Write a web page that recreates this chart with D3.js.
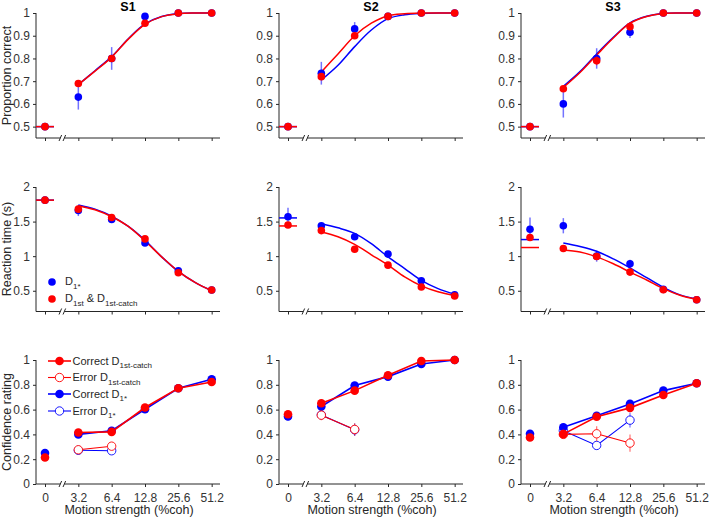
<!DOCTYPE html>
<html><head><meta charset="utf-8">
<script src="https://cdn.jsdelivr.net/npm/d3@7/dist/d3.min.js"></script>
<style>
body{margin:0;background:#fff;}
svg{font-family:"Liberation Sans",Arial,Helvetica,sans-serif;}
</style></head>
<body><svg id="c" width="715" height="520"></svg>
<script>
// ---------- data ----------
const cohLabels = ["0","3.2","6.4","12.8","25.6","51.2"];
const cohIdx = [0,1,2,3,4,5];
const subjects = ["S1","S2","S3"];
const fitIdx = [1,1.5,2,2.5,3,3.5,4,4.5,5];

// Proportion correct
const pcBlue = [[0.5,0.63,0.80,0.985,1.0,1.0],[0.5,0.735,0.93,0.985,1.0,1.0],[0.5,0.60,0.80,0.915,1.0,1.0]];
const pcBlueErr = [[0,0.055,0.05,0.01,0,0],[0,0.05,0.03,0.006,0,0],[0,0.06,0.045,0.025,0,0]];
const pcRed = [[0.5,0.69,0.80,0.955,1.0,1.0],[0.5,0.72,0.90,0.985,1.0,1.0],[0.5,0.667,0.79,0.94,1.0,1.0]];
const pcRedErr = [[0,0.01,0.015,0.01,0,0],[0,0.01,0.01,0.005,0,0],[0,0.01,0.02,0.01,0,0]];
const pcFitBlue = [[0.685,0.746,0.808,0.887,0.952,0.985,0.997,1.0,1.0],[0.705,0.77,0.852,0.925,0.975,0.992,0.998,1.0,1.0],[0.677,0.742,0.82,0.893,0.957,0.986,0.998,1.0,1.0]];
const pcFitRed = [[0.685,0.744,0.806,0.885,0.95,0.984,0.997,1.0,1.0],[0.74,0.82,0.90,0.955,0.988,0.997,1.0,1.0,1.0],[0.672,0.738,0.815,0.89,0.955,0.985,0.998,1.0,1.0]];
const pcZeroBlue = [0.5,0.5,0.5];
const pcZeroRed = [0.5,0.5,0.5];

// Reaction time
const rtBlue = [[1.81,1.66,1.53,1.19,0.79,0.51],[1.57,1.44,1.28,1.03,0.645,0.44],[1.39,1.44,1.0,0.89,0.52,0.37]];
const rtBlueErr = [[0.02,0.08,0.04,0.04,0.03,0.02],[0.13,0.03,0.03,0.03,0.02,0.02],[0.17,0.11,0.08,0.06,0.02,0.02]];
const rtRed = [[1.81,1.68,1.56,1.25,0.76,0.51],[1.45,1.37,1.10,0.87,0.555,0.425],[1.27,1.11,0.995,0.77,0.515,0.37]];
const rtRedErr = [[0.02,0.04,0.03,0.03,0.02,0.01],[0.04,0.02,0.02,0.02,0.02,0.01],[0.05,0.02,0.03,0.02,0.02,0.01]];
const rtFitBlue = [[1.74,1.68,1.58,1.43,1.23,0.99,0.78,0.62,0.50],[1.47,1.41,1.33,1.18,0.99,0.82,0.65,0.53,0.45],[1.19,1.14,1.07,0.96,0.83,0.69,0.55,0.44,0.38]];
const rtFitRed = [[1.73,1.67,1.57,1.43,1.22,0.99,0.78,0.62,0.50],[1.35,1.28,1.17,1.02,0.87,0.70,0.57,0.485,0.43],[1.09,1.06,0.99,0.89,0.77,0.655,0.53,0.435,0.375]];
const rtZeroBlue = [1.81,1.553,1.24];
const rtZeroRed = [1.81,1.437,1.125];

// Confidence
const cfBlue = [[0.249,0.40,0.43,0.603,0.772,0.845],[0.544,0.625,0.794,0.866,0.968,1.0],[0.405,0.458,0.55,0.646,0.753,0.812]];
const cfBlueErr = [[0.02,0.01,0.01,0.01,0.01,0.01],[0.03,0.01,0.01,0.01,0.01,0.005],[0.03,0.01,0.01,0.01,0.01,0.01]];
const cfRed = [[0.214,0.415,0.42,0.617,0.772,0.823],[0.563,0.651,0.753,0.877,0.992,1.0],[0.375,0.402,0.542,0.614,0.718,0.812]];
const cfRedErr = [[0.02,0.01,0.01,0.01,0.01,0.01],[0.02,0.01,0.01,0.01,0.01,0.005],[0.02,0.01,0.01,0.01,0.01,0.01]];
const cfErrBlue = [[null,0.272,0.268,null,null,null],[null,0.557,0.437,null,null,null],[null,0.43,0.311,0.515,null,null]];
const cfErrBlueErr = [[0,0.02,0.02,0,0,0],[0,0.03,0.05,0,0,0],[0,0.03,0.03,0.06,0,0]];
const cfErrRed = [[null,0.276,0.305,null,null,null],[null,0.555,0.44,null,null,null],[null,0.40,0.405,0.33,null,null]];
const cfErrRedErr = [[0,0.03,0.02,0,0,0],[0,0.04,0.05,0,0,0],[0,0.02,0.06,0.07,0,0]];

const pcTicks = [0.5,0.6,0.7,0.8,0.9,1];
const rtTicks = [0.5,1,1.5,2];
const cfTicks = [0,0.2,0.4,0.6,0.8,1];
const yTitles = ["Proportion correct","Reaction time (s)","Confidence rating"];
const xTitle = "Motion strength (%coh)";

// ---------- layout ----------
const BLUE = "#0000ff", RED = "#ff0000";
const svg = d3.select("#c");
const panelLeft = [36, 279, 521];
const panelW = 184;
const rowDefs = [
  {domain:[0.45,1], range:[138,13], ticks:pcTicks},
  {domain:[0.2,2], range:[311.5,187], ticks:rtTicks},
  {domain:[0,1], range:[484,360], ticks:cfTicks}
];

function xScale(p){ return d3.scaleLinear().domain([-0.27,5.25]).range([panelLeft[p], panelLeft[p]+panelW]); }

function drawAxes(g, x, y, row, ticks, showXLabels){
  const axCol = "#262626";
  const ya = d3.axisLeft(y).tickValues(ticks).tickSize(3).tickPadding(3).tickFormat(d3.format("~g"));
  const yg = g.append("g").attr("transform",`translate(${x.range()[0]},0)`).call(ya);
  yg.select(".domain").remove();
  yg.append("line").attr("y1",y.range()[0]).attr("y2",y(ticks[ticks.length-1])).attr("stroke",axCol).attr("stroke-width",1);
  yg.selectAll(".tick line").attr("stroke",axCol);
  yg.selectAll(".tick text").attr("fill","#333").attr("font-size",12).attr("font-family","Liberation Sans, Arial, sans-serif");
  const xa = d3.axisBottom(x).tickValues(cohIdx).tickSize(3).tickPadding(6).tickFormat((d,i)=> showXLabels ? cohLabels[i] : "");
  const xg = g.append("g").attr("transform",`translate(0,${y.range()[0]})`).call(xa);
  xg.select(".domain").remove();
  xg.append("line").attr("x1",x.range()[0]).attr("x2",x.range()[1]).attr("stroke",axCol);
  xg.selectAll(".tick line").attr("stroke",axCol);
  xg.selectAll(".tick text").attr("fill","#333").attr("font-size",12).attr("font-family","Liberation Sans, Arial, sans-serif");
  const bx = x(0.52);
  xg.append("rect").attr("x",bx-2).attr("y",-1.5).attr("width",4).attr("height",3).attr("fill","#fff");
  [-2,2].forEach(o=>{
    xg.append("line").attr("x1",bx+o-1.3).attr("y1",3).attr("x2",bx+o+1.3).attr("y2",-3).attr("stroke",axCol).attr("stroke-width",1);
  });
}

function errBars(g, x, y, vals, errs, col, w){
  vals.forEach((v,i)=>{
    if(v===null || !errs[i]) return;
    g.append("line").attr("x1",x(cohIdx[i])).attr("x2",x(cohIdx[i]))
      .attr("y1",y(v-errs[i])).attr("y2",y(v+errs[i]))
      .attr("stroke",col).attr("stroke-opacity",0.55).attr("stroke-width",w||1.5);
  });
}
function dots(g, x, y, vals, col, r, open){
  vals.forEach((v,i)=>{
    if(v===null) return;
    g.append("circle").attr("cx",x(cohIdx[i])).attr("cy",y(v)).attr("r",r)
      .attr("fill",open?"#fff":col).attr("stroke",col).attr("stroke-width",open?0.9:0);
  });
}
function fitLine(g, x, y, vals, col){
  const line = d3.line().x((d,i)=>x(fitIdx[i])).y(d=>y(d)).curve(d3.curveCatmullRom.alpha(0.5));
  g.append("path").attr("d",line(vals)).attr("fill","none").attr("stroke",col).attr("stroke-width",1.5);
}
function zeroLine(g, x, y, v, col){
  g.append("line").attr("x1",x(-0.27)).attr("x2",x(0.27)).attr("y1",y(v)).attr("y2",y(v)).attr("stroke",col).attr("stroke-width",1.5);
}
function connected(g, x, y, vals, col, r, open, startIdx){
  const pts = vals.map((v,i)=>[i,v]).filter(d=>d[1]!==null && d[0]>=startIdx);
  const line = d3.line().x(d=>x(cohIdx[d[0]])).y(d=>y(d[1]));
  g.append("path").attr("d",line(pts)).attr("fill","none").attr("stroke",col).attr("stroke-width",open?1.1:1.6);
}

for(let p=0;p<3;p++){
  const x = xScale(p);
  {
    const rd = rowDefs[0];
    const y = d3.scaleLinear().domain(rd.domain).range(rd.range);
    const g = svg.append("g");
    drawAxes(g,x,y,0,rd.ticks,false);
    zeroLine(g,x,y,pcZeroBlue[p],BLUE);
    zeroLine(g,x,y,pcZeroRed[p],RED);
    fitLine(g,x,y,pcFitBlue[p],BLUE);
    fitLine(g,x,y,pcFitRed[p],RED);
    errBars(g,x,y,pcBlue[p],pcBlueErr[p],BLUE);
    dots(g,x,y,pcBlue[p],BLUE,3.8);
    errBars(g,x,y,pcRed[p],pcRedErr[p],RED);
    dots(g,x,y,pcRed[p],RED,3.8);
    svg.append("text").attr("x",(x.range()[0]+x.range()[1])/2).attr("y",11).attr("text-anchor","middle")
      .attr("font-weight","bold").attr("font-size",12.5).text(subjects[p]);
  }
  {
    const rd = rowDefs[1];
    const y = d3.scaleLinear().domain(rd.domain).range(rd.range);
    const g = svg.append("g");
    drawAxes(g,x,y,1,rd.ticks,false);
    zeroLine(g,x,y,rtZeroBlue[p],BLUE);
    zeroLine(g,x,y,rtZeroRed[p],RED);
    fitLine(g,x,y,rtFitBlue[p],BLUE);
    fitLine(g,x,y,rtFitRed[p],RED);
    errBars(g,x,y,rtBlue[p],rtBlueErr[p],BLUE);
    dots(g,x,y,rtBlue[p],BLUE,3.8);
    errBars(g,x,y,rtRed[p],rtRedErr[p],RED);
    dots(g,x,y,rtRed[p],RED,3.8);
  }
  {
    const rd = rowDefs[2];
    const y = d3.scaleLinear().domain(rd.domain).range(rd.range);
    const g = svg.append("g");
    drawAxes(g,x,y,2,rd.ticks,true);
    connected(g,x,y,cfErrBlue[p],BLUE,4,true,1);
    errBars(g,x,y,cfErrBlue[p],cfErrBlueErr[p],BLUE,1.2);
    dots(g,x,y,cfErrBlue[p],BLUE,4.2,true);
    connected(g,x,y,cfBlue[p],BLUE,4,false,1);
    errBars(g,x,y,cfBlue[p],cfBlueErr[p],BLUE);
    dots(g,x,y,cfBlue[p],BLUE,4.3);
    connected(g,x,y,cfErrRed[p],RED,4,true,1);
    errBars(g,x,y,cfErrRed[p],cfErrRedErr[p],RED,1.2);
    dots(g,x,y,cfErrRed[p],RED,4.2,true);
    connected(g,x,y,cfRed[p],RED,4,false,1);
    errBars(g,x,y,cfRed[p],cfRedErr[p],RED);
    dots(g,x,y,cfRed[p],RED,4.3);
    svg.append("text").attr("x",(x.range()[0]+x.range()[1])/2 + 1).attr("y",514).attr("text-anchor","middle")
      .attr("font-size",12.5).attr("fill","#262626").text(xTitle);
  }
}

const rowCenters = [75.5, 249, 422];
yTitles.forEach((t,i)=>{
  svg.append("text").attr("transform",`translate(11,${rowCenters[i]}) rotate(-90)`)
    .attr("text-anchor","middle").attr("font-size",12.5).attr("fill","#262626").text(t);
});

function subText(sel, parts){
  parts.forEach(pt=>{
    const ts = sel.append("tspan").text(pt.t);
    if(pt.sub){ ts.attr("font-size",8).attr("dy",3.5); }
    else if(pt.after){ ts.attr("dy",-3.5); }
  });
}
{
  const lg = svg.append("g");
  lg.append("circle").attr("cx",52).attr("cy",282).attr("r",3.8).attr("fill",BLUE);
  lg.append("circle").attr("cx",52).attr("cy",299).attr("r",3.8).attr("fill",RED);
  const t1 = lg.append("text").attr("x",65).attr("y",285).attr("font-size",11).attr("fill","#262626");
  subText(t1,[{t:"D"},{t:"1*",sub:true}]);
  const t2 = lg.append("text").attr("x",65).attr("y",302).attr("font-size",11).attr("fill","#262626");
  subText(t2,[{t:"D"},{t:"1st",sub:true},{t:" & D",after:true},{t:"1st-catch",sub:true}]);
}
{
  const items = [
    {col:RED, open:false, label:[{t:"Correct D"},{t:"1st-catch",sub:true}]},
    {col:RED, open:true, label:[{t:"Error D"},{t:"1st-catch",sub:true}]},
    {col:BLUE, open:false, label:[{t:"Correct D"},{t:"1*",sub:true}]},
    {col:BLUE, open:true, label:[{t:"Error D"},{t:"1*",sub:true}]}
  ];
  const ys = [361,377.5,394,411];
  const lg = svg.append("g");
  items.forEach((it,i)=>{
    lg.append("line").attr("x1",48).attr("x2",71).attr("y1",ys[i]).attr("y2",ys[i]).attr("stroke",it.col).attr("stroke-width",it.open?1.1:1.6);
    lg.append("circle").attr("cx",59.5).attr("cy",ys[i]).attr("r",it.open?4.2:4.3)
      .attr("fill",it.open?"#fff":it.col).attr("stroke",it.col).attr("stroke-width",it.open?0.9:0);
    const t = lg.append("text").attr("x",72.5).attr("y",ys[i]+3.5).attr("font-size",11).attr("fill","#262626");
    subText(t,it.label);
  });
}
</script></body></html>
